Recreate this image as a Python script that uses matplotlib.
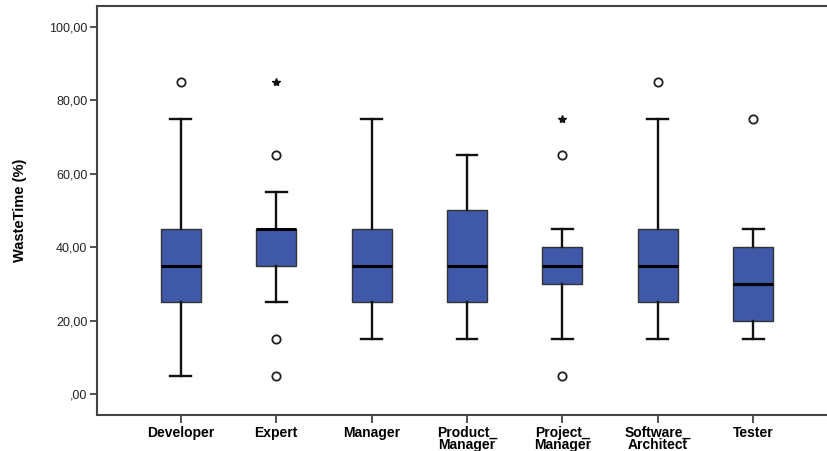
import matplotlib
matplotlib.use('Agg')
import matplotlib.pyplot as plt

# box statistics
groups = ['Developer', 'Expert', 'Manager', 'Product_\nManager', 'Project_\nManager',
          'Software_\nArchitect', 'Tester']
q1 = [25, 35, 25, 25, 30, 25, 20]
med = [35, 45, 35, 35, 35, 35, 30]
q3 = [45, 45, 45, 50, 40, 45, 40]
whislo = [5, 25, 15, 15, 15, 15, 15]
whishi = [75, 55, 75, 65, 45, 75, 45]
outliers = [[85], [65, 15, 5], [], [], [65, 5], [85], [75]]
extremes = [[], [85], [], [], [75], [], []]
ytick_vals = [0, 20, 40, 60, 80, 100]
ytick_text = [',00', '20,00', '40,00', '60,00', '80,00', '100,00']

box_color = '#3F58A8'

fig = plt.figure(figsize=(8.27, 4.51), dpi=100)
ax = fig.add_axes([97 / 827, 36 / 451, 740 / 827, 409 / 451])

stats = []
for i in range(len(groups)):
    stats.append(dict(med=med[i], q1=q1[i], q3=q3[i], whislo=whislo[i], whishi=whishi[i],
                      fliers=outliers[i], label=groups[i]))

pos = list(range(len(groups)))
ax.bxp(stats, positions=pos, widths=0.42, capwidths=0.22, patch_artist=True,
       boxprops=dict(facecolor=box_color, edgecolor='#333333', linewidth=1.0),
       medianprops=dict(color='black', linewidth=2.2),
       whiskerprops=dict(color='#111111', linewidth=1.7),
       capprops=dict(color='#111111', linewidth=1.7),
       flierprops=dict(marker='o', markersize=6, markerfacecolor='white',
                       markeredgecolor='#222222', markeredgewidth=1.3))

for i, ext in enumerate(extremes):
    if ext:
        ax.plot([pos[i]] * len(ext), ext, linestyle='none', marker='*', markersize=6,
                color='#111111')

ax.set_xlim(-0.88, 6.88)
ax.set_ylim(-5.7, 105.7)
ax.set_yticks(ytick_vals)
ax.set_yticklabels(ytick_text, fontsize=9, family='Liberation Sans', color='#222222')
ax.set_xticks(pos)
ax.set_xticklabels(groups, fontsize=10, fontweight='bold', family='Liberation Sans',
                   linespacing=0.8, va='top')
ax.tick_params(axis='y', length=5, width=1.3, color='#444444', pad=2)
ax.tick_params(axis='x', length=6, width=1.3, color='#444444', pad=2)

for side in ['left', 'bottom', 'top']:
    ax.spines[side].set_color('#444444')
    ax.spines[side].set_linewidth(1.5)
ax.spines['right'].set_visible(False)

ax.set_ylabel('WasteTime (%)', fontsize=10.5, fontweight='bold',
              family=['Liberation Sans Narrow', 'Liberation Sans'])
ax.yaxis.set_label_coords(-0.095, 0.5)

fig.savefig('out.png', dpi=100)
